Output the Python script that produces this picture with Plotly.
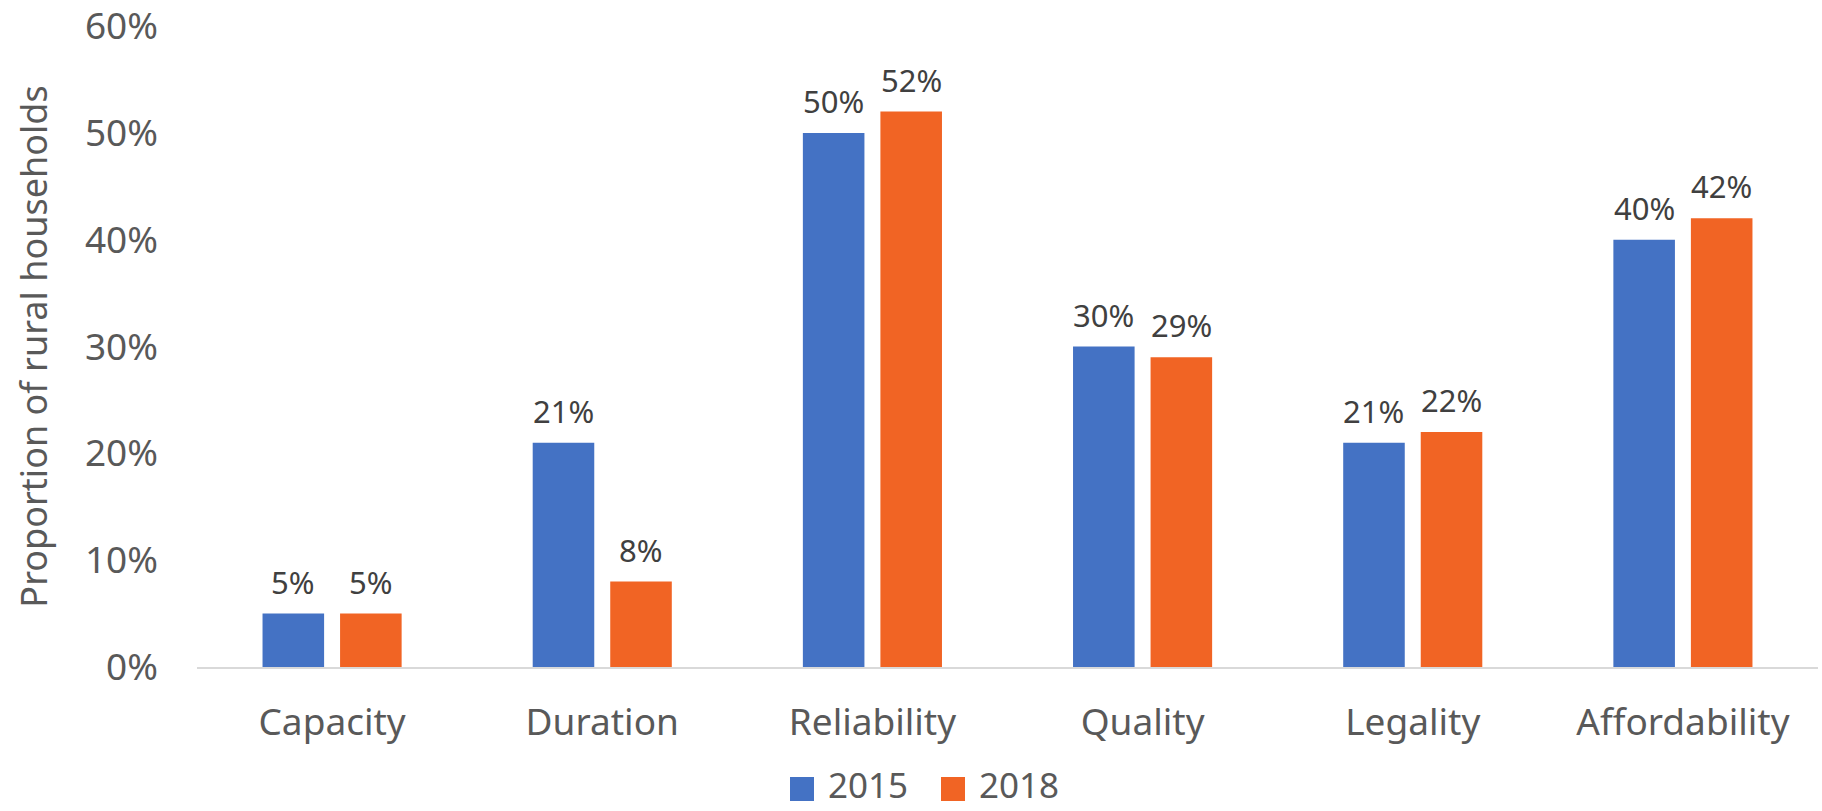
import plotly.graph_objects as go

# Share of rural households reporting each electricity-access issue
categories = ["Capacity", "Duration", "Reliability", "Quality", "Legality", "Affordability"]
years = ["2015", "2018"]
values_2015 = [0.05, 0.21, 0.50, 0.30, 0.21, 0.40]
values_2018 = [0.05, 0.08, 0.52, 0.29, 0.22, 0.42]
y_ticks = [0.0, 0.1, 0.2, 0.3, 0.4, 0.5, 0.6]
y_tick_labels = ["0%", "10%", "20%", "30%", "40%", "50%", "60%"]

colors = ["#4472C4", "#F16424"]
FONT = "Noto Sans"
BARGAP = 0.426
BARGROUPGAP = 0.206

fig = go.Figure()
series = [values_2015, values_2018]
for name, vals, col in zip(years, series, colors):
    fig.add_trace(go.Bar(
        x=categories, y=vals, name=name,
        marker=dict(color=col, line=dict(width=0)),
        showlegend=False, hoverinfo="x+y",
    ))

# value labels above each bar, centred on the bar's slot within its group
slot = (1 - BARGAP) / len(series)
annotations = []
for k, vals in enumerate(series):
    off = (k - (len(series) - 1) / 2) * slot
    for i, v in enumerate(vals):
        annotations.append(dict(
            x=i + off, y=v, xref="x", yref="y",
            text=f"{v:.0%}", showarrow=False,
            yanchor="bottom", yshift=9,
            font=dict(family=FONT, size=31, color="#404040"),
        ))

# legend drawn as square keys with labels, centred under the chart
legend_keys = [(790, 941), (826, 977)]
shapes = []
for k, (name, col) in enumerate(zip(years, colors)):
    x0 = legend_keys[0][k]
    shapes.append(dict(
        type="rect", xref="paper", yref="paper",
        x0=(x0 - 197) / 1621, x1=(x0 + 24 - 197) / 1621,
        y0=(667 - 801) / 641, y1=(667 - 777) / 641,
        fillcolor=col, line=dict(width=0),
    ))
    annotations.append(dict(
        x=(legend_keys[1][k] - 197) / 1621, y=(667 - 785) / 641,
        xref="paper", yref="paper", xanchor="left", yanchor="middle",
        text=name, showarrow=False,
        font=dict(family=FONT, size=35, color="#595959"),
    ))

fig.update_layout(
    width=1822, height=811,
    margin=dict(l=197, r=4, t=26, b=144),
    paper_bgcolor="white", plot_bgcolor="white",
    barmode="group", bargap=BARGAP, bargroupgap=BARGROUPGAP,
    font=dict(family=FONT, color="#595959"),
    annotations=annotations, shapes=shapes,
    xaxis=dict(
        showline=True, linecolor="#D9D9D9", linewidth=2,
        showgrid=False, ticks="", zeroline=False, automargin=False,
        tickfont=dict(family=FONT, size=37, color="#595959"),
        ticklabelstandoff=22,
    ),
    yaxis=dict(
        range=[0, 0.6001], tickvals=y_ticks, ticktext=y_tick_labels,
        showgrid=False, zeroline=False, showline=False, ticks="",
        automargin=False,
        tickfont=dict(family=FONT, size=37, color="#595959"),
        ticklabelstandoff=38, ticklabeloverflow="allow",
        title=dict(text="Proportion of rural households", standoff=26,
                   font=dict(family=FONT, size=36, color="#595959")),
    ),
)

fig.write_html("out.html")
